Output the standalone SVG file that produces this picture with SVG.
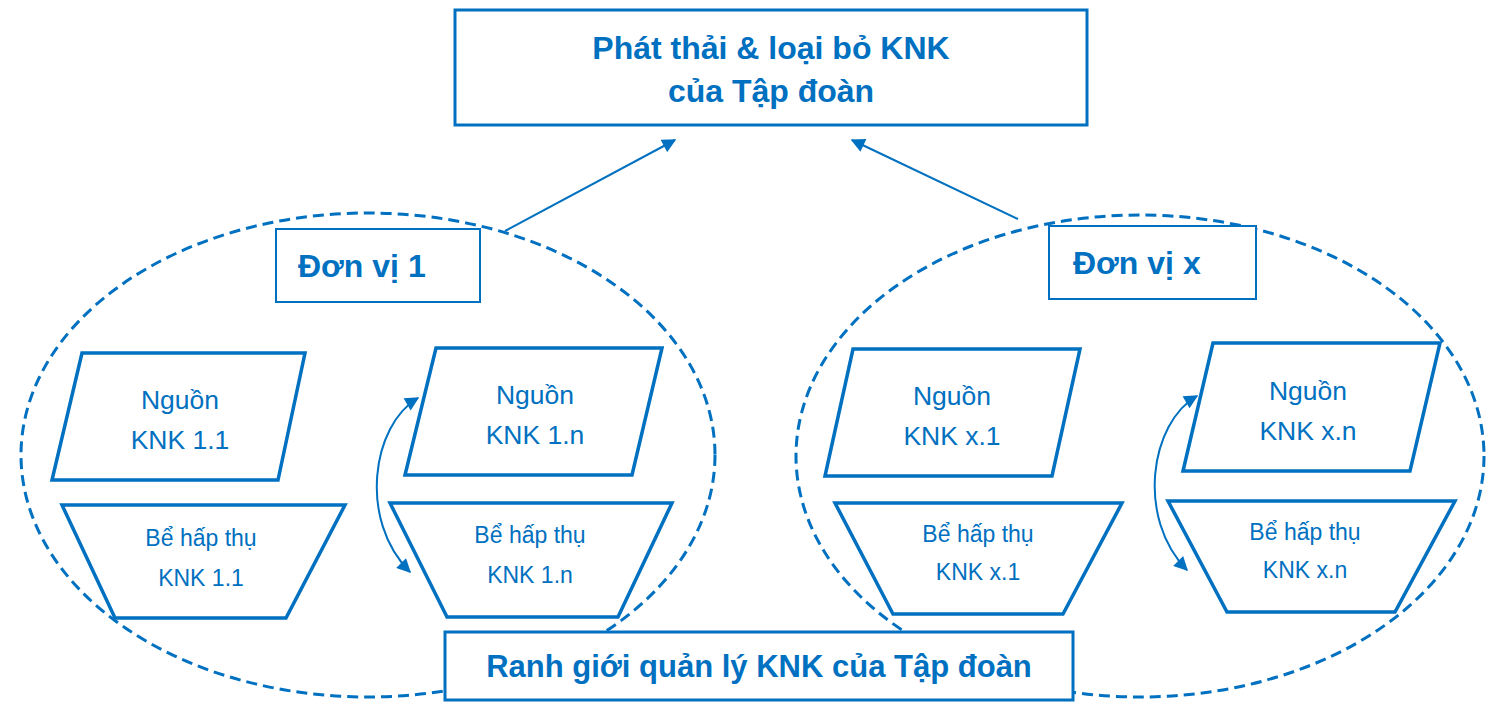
<svg xmlns="http://www.w3.org/2000/svg" width="1486" height="706" viewBox="0 0 1486 706">
  <style>
    .box { fill: #fff; stroke: #0070C0; stroke-width: 3; }
    .thin { fill: #fff; stroke: #0070C0; stroke-width: 2; }
    .shape { fill: #fff; stroke: #0070C0; stroke-width: 3.5; stroke-linejoin: miter; }
    .scope { fill: none; stroke: #0070C0; stroke-width: 3; stroke-dasharray: 11 6; }
    .conn { fill: none; stroke: #0070C0; stroke-width: 2; }
    text { font-family: "Liberation Sans", Arial, sans-serif; fill: #0070C0; text-anchor: middle; }
    .h { font-size: 32px; font-weight: bold; }
    .hb { font-size: 31px; font-weight: bold; }
    .src { font-size: 26.5px; }
    .snk { font-size: 23px; }
  </style>
  <defs>
    <marker id="arr" viewBox="0 0 10 10" refX="9" refY="5" markerWidth="17" markerHeight="14" markerUnits="userSpaceOnUse" orient="auto-start-reverse">
      <path d="M0,0 L10,5 L0,10 Z" fill="#0070C0"/>
    </marker>
  </defs>

  <!-- unit boundaries -->
  <g id="scope-unit-1"><ellipse class="scope" cx="368" cy="455" rx="347" ry="242"/></g>
  <g id="scope-unit-x"><ellipse class="scope" cx="1140" cy="456" rx="344" ry="241"/></g>

  <!-- connectors -->
  <g id="connectors">
    <line class="conn" x1="505" y1="231" x2="675" y2="140" marker-end="url(#arr)"/>
    <line class="conn" x1="1018" y1="219" x2="852" y2="140" marker-end="url(#arr)"/>
    <path class="conn" d="M418,398 C372,425 358,520 410,572" marker-start="url(#arr)" marker-end="url(#arr)"/>
    <path class="conn" d="M1197,396 C1150,423 1136,518 1187,570" marker-start="url(#arr)" marker-end="url(#arr)"/>
  </g>

  <g id="group-total">
    <rect class="box" x="455" y="10" width="632" height="115"/>
    <text class="h" x="771" y="59">Phát thải &amp; loại bỏ KNK</text>
    <text class="h" x="771" y="102">của Tập đoàn</text>
  </g>

  <g id="unit-1">
    <rect class="thin" x="276" y="229" width="204" height="73"/>
    <text class="h" x="298" y="277" style="text-anchor:start">Đơn vị 1</text>
  </g>
  <g id="unit-x">
    <rect class="thin" x="1049" y="226" width="207" height="73"/>
    <text class="h" x="1073" y="274" style="text-anchor:start">Đơn vị x</text>
  </g>

  <g id="source-1-1">
    <polygon class="shape" points="82,353 305,353 278,480 52,480"/>
    <text class="src" x="180" y="409">Nguồn</text>
    <text class="src" x="180" y="449">KNK 1.1</text>
  </g>
  <g id="source-1-n">
    <polygon class="shape" points="436,348 662,348 632,475 405,475"/>
    <text class="src" x="535" y="404">Nguồn</text>
    <text class="src" x="535" y="444">KNK 1.n</text>
  </g>
  <g id="sink-1-1">
    <polygon class="shape" points="62,505 345,505 286,618 115,618"/>
    <text class="snk" x="201" y="546">Bể hấp thụ</text>
    <text class="snk" x="201" y="586">KNK 1.1</text>
  </g>
  <g id="sink-1-n">
    <polygon class="shape" points="390,503 672,503 618,617 447,617"/>
    <text class="snk" x="530" y="543">Bể hấp thụ</text>
    <text class="snk" x="530" y="583">KNK 1.n</text>
  </g>

  <g id="source-x-1">
    <polygon class="shape" points="853,349 1080,349 1052,476 825,476"/>
    <text class="src" x="952" y="405">Nguồn</text>
    <text class="src" x="952" y="445">KNK x.1</text>
  </g>
  <g id="source-x-n">
    <polygon class="shape" points="1213,343 1440,343 1410,471 1183,471"/>
    <text class="src" x="1308" y="400">Nguồn</text>
    <text class="src" x="1308" y="440">KNK x.n</text>
  </g>
  <g id="sink-x-1">
    <polygon class="shape" points="835,503 1122,503 1063,614 893,614"/>
    <text class="snk" x="978" y="542">Bể hấp thụ</text>
    <text class="snk" x="978" y="580">KNK x.1</text>
  </g>
  <g id="sink-x-n">
    <polygon class="shape" points="1168,501 1455,501 1395,612 1227,612"/>
    <text class="snk" x="1305" y="540">Bể hấp thụ</text>
    <text class="snk" x="1305" y="578">KNK x.n</text>
  </g>

  <g id="group-boundary">
    <rect class="box" x="445" y="632" width="628" height="68"/>
    <text class="hb" x="759" y="677">Ranh giới quản lý KNK của Tập đoàn</text>
  </g>
</svg>
